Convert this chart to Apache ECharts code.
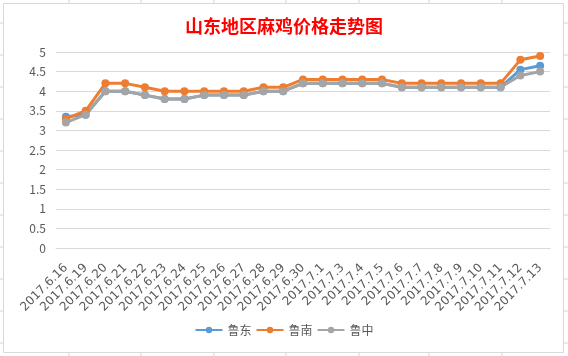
<!DOCTYPE html>
<html><head><meta charset="utf-8">
<script src="https://cdn.jsdelivr.net/npm/echarts@6/dist/echarts.min.js"></script>
<style>html,body{margin:0;padding:0;background:#fff}#c{width:568px;height:356px}</style>
</head><body><div id="c"></div>
<script>
var categories = ['2017.6.16','2017.6.19','2017.6.20','2017.6.21','2017.6.22','2017.6.23','2017.6.24','2017.6.25','2017.6.26','2017.6.27','2017.6.28','2017.6.29','2017.6.30','2017.7.1','2017.7.3','2017.7.4','2017.7.5','2017.7.6','2017.7.7','2017.7.8','2017.7.9','2017.7.10','2017.7.11','2017.7.12','2017.7.13'];
var ludong  = [3.35,3.4,4.0,4.0,3.9,3.8,3.8,3.9,3.9,3.9,4.0,4.0,4.2,4.2,4.2,4.2,4.2,4.1,4.1,4.1,4.1,4.1,4.1,4.55,4.65];
var lunan   = [3.3,3.5,4.2,4.2,4.1,4.0,4.0,4.0,4.0,4.0,4.1,4.1,4.3,4.3,4.3,4.3,4.3,4.2,4.2,4.2,4.2,4.2,4.2,4.8,4.9];
var luzhong = [3.2,3.4,4.0,4.0,3.9,3.8,3.8,3.9,3.9,3.9,4.0,4.0,4.2,4.2,4.2,4.2,4.2,4.1,4.1,4.1,4.1,4.1,4.1,4.4,4.5];
var seriesNames = ['鲁东','鲁南','鲁中'];
var colors = ['#5B9BD5','#ED7D31','#A5A5A5'];

var chart = echarts.init(document.getElementById('c'));
var font = '"Noto Sans CJK SC","Noto Sans",sans-serif';
function mk(name, data, color){
  return {name:name,type:'line',data:data,symbol:'circle',symbolSize:8,
    lineStyle:{width:3,color:color},itemStyle:{color:color},z:2};
}
var gl = [];
var gc = '#D4D4D4';
[69,141,214,286,359,429,502].forEach(function(x){
  gl.push({type:'line',shape:{x1:x,y1:0,x2:x,y2:3},style:{stroke:gc,lineWidth:1}});
  gl.push({type:'line',shape:{x1:x,y1:353,x2:x,y2:356},style:{stroke:gc,lineWidth:1}});
});
[23,55,87,119,151,183,215,247,279,311,343].forEach(function(y){
  gl.push({type:'line',shape:{x1:0,y1:y,x2:3,y2:y},style:{stroke:gc,lineWidth:1}});
  gl.push({type:'line',shape:{x1:564,y1:y,x2:568,y2:y},style:{stroke:gc,lineWidth:1}});
});
gl.push({type:'rect',shape:{x:3.5,y:3.5,width:560,height:349},style:{fill:null,stroke:'#D9D9D9',lineWidth:1}});
chart.setOption({
  animation:false,
  color:colors,
  textStyle:{fontFamily:font},
  title:{text:'山东地区麻鸡价格走势图',left:'center',top:12,
    textStyle:{color:'#FF0000',fontSize:18,fontWeight:'bold',fontFamily:font}},
  graphic:gl,
  legend:{bottom:15,left:'center',itemWidth:27,itemHeight:8,itemGap:4,
    textStyle:{color:'#595959',fontSize:12,fontFamily:font},
    data:seriesNames},
  grid:{left:56,right:18,top:52,bottom:108,containLabel:false},
  xAxis:{type:'category',data:categories,boundaryGap:true,
    axisLine:{lineStyle:{color:'#D9D9D9'}},axisTick:{show:false},
    axisLabel:{interval:0,rotate:45,color:'#595959',fontSize:12,margin:18,
      padding:[24,0,0,0],fontFamily:'"DejaVu Sans",sans-serif'}},
  yAxis:{type:'value',min:0,max:5,interval:0.5,
    axisLine:{show:false},axisTick:{show:false},
    splitLine:{lineStyle:{color:'#D9D9D9'}},
    axisLabel:{color:'#595959',fontSize:12,margin:10,fontFamily:font}},
  series:[mk(seriesNames[0],ludong,colors[0]),mk(seriesNames[1],lunan,colors[1]),mk(seriesNames[2],luzhong,colors[2])]
});
</script></body></html>
